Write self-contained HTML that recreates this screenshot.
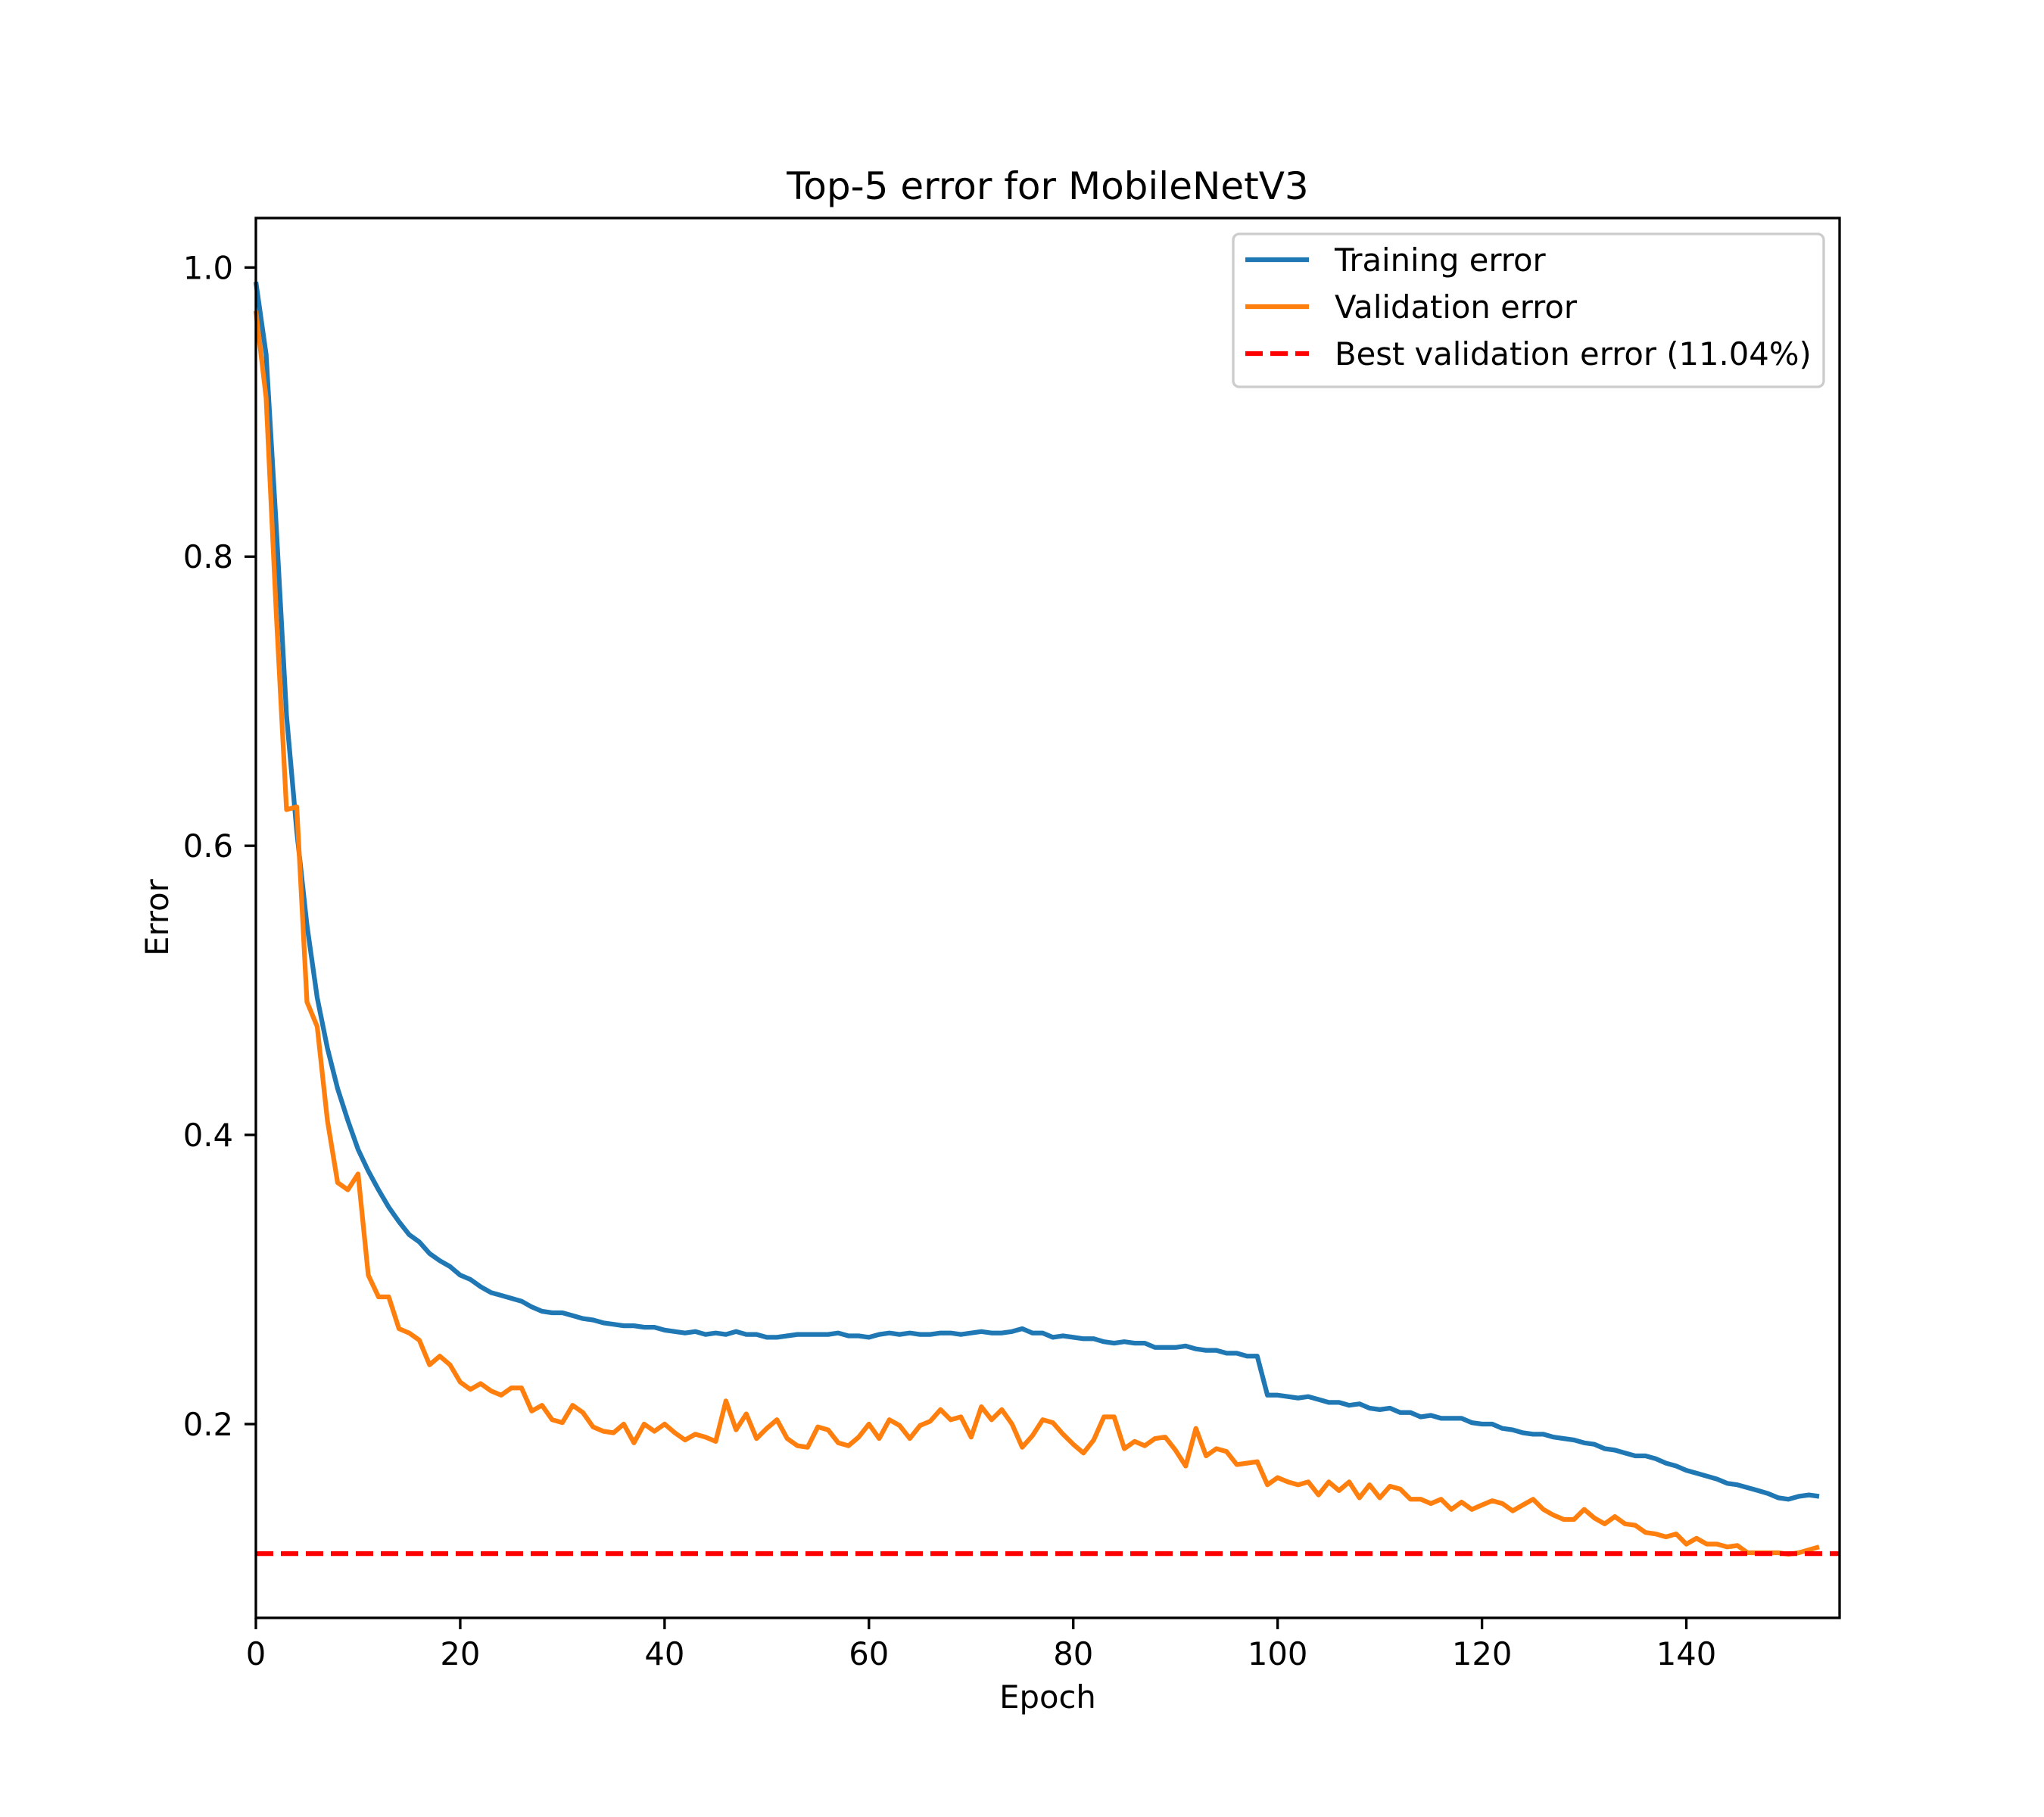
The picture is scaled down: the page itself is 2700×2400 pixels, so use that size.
<!DOCTYPE html>
<html><head><meta charset="utf-8"><style>
html,body{margin:0;padding:0;background:#fff;}
svg{display:block;font-family:"DejaVu Sans","Liberation Sans",sans-serif;}
</style></head><body>
<svg id="chart" width="2700" height="2400" viewBox="0 0 2700 2400" xmlns="http://www.w3.org/2000/svg">
<rect width="2700" height="2400" fill="#fff"/>
<text x="1384" y="263" font-size="50" text-anchor="middle">Top-5 error for MobileNetV3</text>
<g id="ticks"></g>
<g id="series"></g>
<rect x="338" y="288" width="2092" height="1849" fill="none" stroke="#000" stroke-width="3.33"/>
<text x="1384" y="2256" font-size="41.7" text-anchor="middle">Epoch</text>
<text x="0" y="0" font-size="41.7" text-anchor="middle" transform="translate(222,1212) rotate(-90)">Error</text>
<g transform="translate(-16,-4)">
<rect x="1645" y="313" width="780" height="202" rx="8" fill="#fff" fill-opacity="0.8" stroke="#ccc" stroke-width="3.33"/>
<line x1="1661" y1="347" x2="1745" y2="347" stroke="#1f77b4" stroke-width="6.25"/>
<text x="1779" y="362" font-size="41.7">Training error</text>
<line x1="1661" y1="409" x2="1745" y2="409" stroke="#ff7f0e" stroke-width="6.25"/>
<text x="1779" y="424" font-size="41.7">Validation error</text>
<line x1="1661" y1="471" x2="1745" y2="471" stroke="#ff0000" stroke-width="6.25" stroke-dasharray="23,10"/>
<text x="1779" y="486" font-size="41.7">Best validation error (11.04%)</text>
</g>
</svg>
<script>
const trainErr=[0.99,0.94,0.82,0.69,0.61,0.545,0.495,0.46,0.432,0.41,0.39,0.375,0.362,0.35,0.34,0.331,0.326,0.318,0.313,0.309,0.303,0.300,0.295,0.291,0.289,0.287,0.285,0.281,0.278,0.277,0.277,0.275,0.273,0.272,0.270,0.269,0.268,0.268,0.267,0.267,0.265,0.264,0.263,0.264,0.262,0.263,0.262,0.264,0.262,0.262,0.260,0.260,0.261,0.262,0.262,0.262,0.262,0.263,0.261,0.261,0.260,0.262,0.263,0.262,0.263,0.262,0.262,0.263,0.263,0.262,0.263,0.264,0.263,0.263,0.264,0.266,0.263,0.263,0.260,0.261,0.260,0.259,0.259,0.257,0.256,0.257,0.256,0.256,0.253,0.253,0.253,0.254,0.252,0.251,0.251,0.249,0.249,0.247,0.247,0.220,0.220,0.219,0.218,0.219,0.217,0.215,0.215,0.213,0.214,0.211,0.210,0.211,0.208,0.208,0.205,0.206,0.204,0.204,0.204,0.201,0.200,0.200,0.197,0.196,0.194,0.193,0.193,0.191,0.190,0.189,0.187,0.186,0.183,0.182,0.180,0.178,0.178,0.176,0.173,0.171,0.168,0.166,0.164,0.162,0.159,0.158,0.156,0.154,0.152,0.149,0.148,0.150,0.151,0.150];
const valErr=[0.97,0.91,0.76,0.625,0.627,0.492,0.475,0.41,0.367,0.362,0.373,0.303,0.288,0.288,0.266,0.263,0.258,0.241,0.247,0.241,0.229,0.224,0.228,0.223,0.220,0.225,0.225,0.209,0.213,0.203,0.201,0.213,0.208,0.198,0.195,0.194,0.200,0.187,0.200,0.195,0.200,0.194,0.189,0.193,0.191,0.188,0.216,0.196,0.207,0.190,0.197,0.203,0.190,0.185,0.184,0.198,0.196,0.187,0.185,0.191,0.200,0.190,0.203,0.199,0.190,0.199,0.202,0.210,0.203,0.205,0.191,0.212,0.203,0.210,0.200,0.184,0.192,0.203,0.201,0.193,0.186,0.180,0.189,0.205,0.205,0.183,0.188,0.185,0.190,0.191,0.182,0.171,0.197,0.178,0.183,0.181,0.172,0.173,0.174,0.158,0.163,0.160,0.158,0.160,0.151,0.160,0.154,0.160,0.149,0.158,0.149,0.157,0.155,0.148,0.148,0.145,0.148,0.141,0.146,0.141,0.144,0.147,0.145,0.140,0.144,0.148,0.141,0.137,0.134,0.134,0.141,0.135,0.131,0.136,0.131,0.130,0.125,0.124,0.122,0.124,0.117,0.121,0.117,0.117,0.115,0.116,0.111,0.111,0.111,0.111,0.110,0.111,0.113,0.115];
const bestVal=0.1104;
const xTicks=[0,20,40,60,80,100,120,140];
const yTicks=[0.2,0.4,0.6,0.8,1.0];
const yTickLabels=["0.2","0.4","0.6","0.8","1.0"];

const NS="http://www.w3.org/2000/svg";
const X0=338,X1=2430,XMIN=0,XMAX=155;
const Y1=353.3,Y2=1881;
function sx(v){return X0+(v-XMIN)/(XMAX-XMIN)*(X1-X0);}
function sy(v){return Y1+(1.0-v)/(1.0-0.2)*(Y2-Y1);}
function mk(tag,attrs){const e=document.createElementNS(NS,tag);for(const k in attrs)e.setAttribute(k,attrs[k]);return e;}
const tg=document.getElementById('ticks');
xTicks.forEach(t=>{
  const l=mk('line',{x1:sx(t),x2:sx(t),y1:2137,y2:2152,stroke:'#000','stroke-width':3.33});
  
  
  tg.appendChild(l);
  const tx=mk('text',{x:sx(t),y:2199,'font-size':41.7,'text-anchor':'middle'});
  tx.textContent=String(t);
  
  
  tg.appendChild(tx);
});
yTicks.forEach((t,i)=>{
  const l=mk('line',{x1:323,x2:338,y1:sy(t),y2:sy(t),stroke:'#000','stroke-width':3.33});
  
  
  tg.appendChild(l);
  const tx=mk('text',{x:308,y:sy(t)+15,'font-size':41.7,'text-anchor':'end'});
  tx.textContent=yTickLabels[i];
  
  
  tg.appendChild(tx);
});
const sg=document.getElementById('series');
function pts(arr){return arr.map((v,i)=>sx(i).toFixed(1)+','+sy(v).toFixed(1)).join(' ');}
const tl=mk('polyline',{points:pts(trainErr),fill:'none',stroke:'#1f77b4','stroke-width':6.25,'stroke-linejoin':'round'});


sg.appendChild(tl);
const vl=mk('polyline',{points:pts(valErr),fill:'none',stroke:'#ff7f0e','stroke-width':6.25,'stroke-linejoin':'round'});


sg.appendChild(vl);
const bl=mk('line',{x1:X0,x2:X1,y1:sy(bestVal),y2:sy(bestVal),stroke:'#ff0000','stroke-width':6.25,'stroke-dasharray':'23,10'});


sg.appendChild(bl);
</script>
</body></html>
